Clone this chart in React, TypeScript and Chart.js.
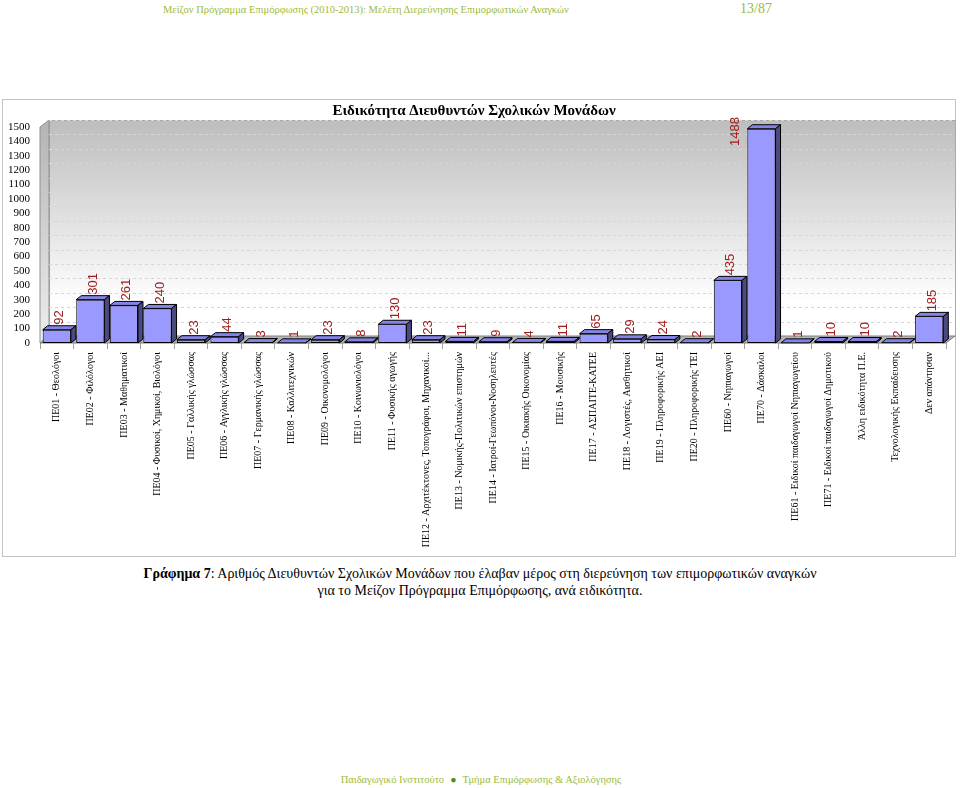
import React, { useEffect, useRef } from "react";
import { Chart, registerables } from "chart.js";

Chart.register(...registerables);

const categories: string[] = [
  "ΠΕ01 - Θεολόγοι",
  "ΠΕ02 - Φιλόλογοι",
  "ΠΕ03 - Μαθηματικοί",
  "ΠΕ04 - Φυσικοί, Χημικοί, Βιολόγοι",
  "ΠΕ05 - Γαλλικής γλώσσας",
  "ΠΕ06 - Αγγλικής γλώσσας",
  "ΠΕ07 - Γερμανικής γλώσσας",
  "ΠΕ08 - Καλλιτεχνικών",
  "ΠΕ09 - Οικονομολόγοι",
  "ΠΕ10 - Κοινωνιολόγοι",
  "ΠΕ11 - Φυσικής αγωγής",
  "ΠΕ12 - Αρχιτέκτονες, Τοπογράφοι, Μηχανικοί...",
  "ΠΕ13 - Νομικής-Πολιτικών επιστημών",
  "ΠΕ14 - Ιατροί-Γεωπόνοι-Νοσηλευτές",
  "ΠΕ15 - Οικιακής Οικονομίας",
  "ΠΕ16 - Μουσικής",
  "ΠΕ17 - ΑΣΠΑΙΤΕ-ΚΑΤΕΕ",
  "ΠΕ18 - Λογιστές, Αισθητικοί",
  "ΠΕ19 - Πληροφορικής ΑΕΙ",
  "ΠΕ20 - Πληροφορικής ΤΕΙ",
  "ΠΕ60 - Νηπιαγωγοί",
  "ΠΕ70 - Δάσκαλοι",
  "ΠΕ61 - Ειδικοί παιδαγωγοί Νηπιαγωγείου",
  "ΠΕ71 - Ειδικοί παιδαγωγοί Δημοτικού",
  "Άλλη ειδικότητα Π.Ε.",
  "Τεχνολογικής Εκπαίδευσης",
  "Δεν απάντησαν",
];

const counts: number[] = [
  92, 301, 261, 240, 23, 44, 3, 1, 23, 8, 130, 23, 11, 9, 4, 11, 65, 29, 24, 2,
  435, 1488, 1, 10, 10, 2, 185,
];

const yMin = 0;
const yMax = 1500;
const yStep = 100;

const chartTitle = "Ειδικότητα Διευθυντών Σχολικών Μονάδων";
const headerText =
  "Μείζον Πρόγραμμα Επιμόρφωσης (2010-2013): Μελέτη Διερεύνησης Επιμορφωτικών Αναγκών";
const pageNumber = "13/87";
const captionBold = "Γράφημα 7";
const captionLine1 =
  ": Αριθμός Διευθυντών Σχολικών Μονάδων που έλαβαν μέρος στη διερεύνηση των επιμορφωτικών αναγκών";
const captionLine2 = "για το Μείζον Πρόγραμμα Επιμόρφωσης, ανά ειδικότητα.";
const footerLeft = "Παιδαγωγικό Ινστιτούτο";
const footerRight = "Τμήμα Επιμόρφωσης & Αξιολόγησης";

const SERIF = "'Liberation Serif', 'Times New Roman', serif";

// 3D geometry
const WALL_DX = 9;
const WALL_DY = -7;
const BAR_DX = 5;
const BAR_DY = -4;

const wallsPlugin = {
  id: "walls3d",
  beforeDatasetsDraw(chart: any) {
    const { ctx, chartArea } = chart;
    const { left, right, top, bottom } = chartArea;
    const yScale = chart.scales.y;
    ctx.save();
    const g = ctx.createLinearGradient(0, top + WALL_DY, 0, bottom + WALL_DY);
    g.addColorStop(0, "#bdbdbd");
    g.addColorStop(0.85, "#ffffff");
    g.addColorStop(1, "#ffffff");
    ctx.fillStyle = g;
    ctx.fillRect(left + WALL_DX, top + WALL_DY, right - left, bottom - top);
    ctx.strokeStyle = "#a8a8a8";
    ctx.lineWidth = 1;
    ctx.strokeRect(left + WALL_DX + 0.5, top + WALL_DY + 0.5, right - left, bottom - top);
    const g2 = ctx.createLinearGradient(0, top, 0, bottom);
    g2.addColorStop(0, "#b5b5b5");
    g2.addColorStop(1, "#eeeeee");
    ctx.fillStyle = g2;
    ctx.beginPath();
    ctx.moveTo(left, top);
    ctx.lineTo(left + WALL_DX, top + WALL_DY);
    ctx.lineTo(left + WALL_DX, bottom + WALL_DY);
    ctx.lineTo(left, bottom);
    ctx.closePath();
    ctx.fill();
    ctx.strokeStyle = "#909090";
    ctx.stroke();
    ctx.setLineDash([3, 3]);
    ctx.strokeStyle = "#d6d6d6";
    for (let v = yMin + yStep; v <= yMax; v += yStep) {
      const y = Math.round(yScale.getPixelForValue(v) + WALL_DY) + 0.5;
      ctx.beginPath();
      ctx.moveTo(left + WALL_DX, y);
      ctx.lineTo(right + WALL_DX, y);
      ctx.stroke();
    }
    ctx.setLineDash([]);
    ctx.fillStyle = "#b4b4b4";
    ctx.beginPath();
    ctx.moveTo(left, bottom);
    ctx.lineTo(right, bottom);
    ctx.lineTo(right + WALL_DX, bottom + WALL_DY);
    ctx.lineTo(left + WALL_DX, bottom + WALL_DY);
    ctx.closePath();
    ctx.fill();
    ctx.strokeStyle = "#808080";
    ctx.stroke();
    ctx.restore();
  },
  afterDatasetsDraw(chart: any) {
    const { ctx, chartArea } = chart;
    const meta = chart.getDatasetMeta(0);
    ctx.save();
    ctx.lineWidth = 1;
    ctx.strokeStyle = "#000000";
    meta.data.forEach((bar: any) => {
      const p = bar.getProps(["x", "y", "base", "width"], true);
      const l = p.x - p.width / 2;
      const r = p.x + p.width / 2;
      ctx.fillStyle = "#8484e6";
      ctx.beginPath();
      ctx.moveTo(l, p.y);
      ctx.lineTo(l + BAR_DX, p.y + BAR_DY);
      ctx.lineTo(r + BAR_DX, p.y + BAR_DY);
      ctx.lineTo(r, p.y);
      ctx.closePath();
      ctx.fill();
      ctx.stroke();
      ctx.fillStyle = "#4a4a80";
      ctx.beginPath();
      ctx.moveTo(r, p.y);
      ctx.lineTo(r + BAR_DX, p.y + BAR_DY);
      ctx.lineTo(r + BAR_DX, p.base + BAR_DY);
      ctx.lineTo(r, p.base);
      ctx.closePath();
      ctx.fill();
      ctx.stroke();
    });
    ctx.font = "13px 'Liberation Sans', Arial, sans-serif";
    ctx.fillStyle = "#a01c1c";
    ctx.textBaseline = "middle";
    meta.data.forEach((bar: any, i: number) => {
      const p = bar.getProps(["x", "y", "base", "width"], true);
      const text = String(counts[i]);
      const tw = ctx.measureText(text).width;
      const startY = p.y + BAR_DY - 1;
      ctx.save();
      if (startY - tw < chartArea.top - 14) {
        ctx.translate(p.x - p.width / 2 - 12, chartArea.top - 10);
        ctx.rotate(-Math.PI / 2);
        ctx.textAlign = "right";
      } else {
        ctx.translate(p.x + 3, startY);
        ctx.rotate(-Math.PI / 2);
        ctx.textAlign = "left";
      }
      ctx.fillText(text, 0, 0);
      ctx.restore();
    });
    ctx.restore();
  },
};

function BarChart() {
  const ref = useRef<HTMLCanvasElement | null>(null);
  useEffect(() => {
    if (!ref.current) return;
    const chart = new Chart(ref.current, {
      type: "bar",
      data: {
        labels: categories,
        datasets: [
          {
            data: counts,
            backgroundColor: "#9999ff",
            borderColor: "#000000",
            borderWidth: 1,
            borderSkipped: false,
            barPercentage: 0.84,
            categoryPercentage: 1,
          },
        ],
      },
      options: {
        responsive: false,
        animation: false,
        layout: { padding: { left: 0, right: 10, top: 0, bottom: 0 } },
        plugins: {
          legend: { display: false },
          tooltip: { enabled: false },
          title: {
            display: true,
            text: chartTitle,
            color: "#000000",
            font: { family: SERIF, size: 15, weight: "bold" },
            padding: { top: 3, bottom: 7 },
          },
        },
        scales: {
          x: {
            grid: {
              display: true,
              drawOnChartArea: false,
              drawTicks: true,
              tickLength: 6,
              offset: true,
              color: "#a0a0a0",
            },
            border: { display: false },
            ticks: {
              autoSkip: false,
              maxRotation: 90,
              minRotation: 90,
              padding: 3,
              color: "#000000",
              font: { family: SERIF, size: 10 },
            },
            afterFit: (s: any) => {
              s.height = 214;
            },
          },
          y: {
            min: yMin,
            max: yMax,
            grid: { display: false, drawTicks: false },
            border: { display: false },
            ticks: {
              stepSize: yStep,
              autoSkip: false,
              padding: 10,
              color: "#000000",
              font: { family: SERIF, size: 11 },
              callback: (v: any) => String(v),
            },
            afterFit: (s: any) => {
              s.width = 38;
            },
          },
        },
      },
      plugins: [wallsPlugin],
    } as any);
    return () => chart.destroy();
  }, []);
  return <canvas ref={ref} width={954} height={458} style={{ display: "block" }} />;
}

export default function App() {
  const green = "#9bbb3a";
  return (
    <div
      style={{
        position: "absolute",
        left: 0,
        top: 0,
        width: 960,
        height: 788,
        background: "#ffffff",
        fontFamily: SERIF,
        overflow: "hidden",
      }}
    >
      <div style={{ position: "absolute", left: 163, top: 4, fontSize: 10.5, color: green, whiteSpace: "nowrap" }}>
        {headerText}
      </div>
      <div style={{ position: "absolute", left: 740, top: 1, fontSize: 14, color: green }}>{pageNumber}</div>
      <div
        style={{
          position: "absolute",
          left: 2,
          top: 99,
          width: 954,
          height: 458,
          boxSizing: "border-box",
          border: "1px solid #c4c4c4",
        }}
      />
      <div style={{ position: "absolute", left: 2, top: 99 }}>
        <BarChart />
      </div>
      <div
        style={{
          position: "absolute",
          left: 0,
          top: 565,
          width: 960,
          textAlign: "center",
          fontSize: 14,
          lineHeight: "17px",
          color: "#000000",
        }}
      >
        <b>{captionBold}</b>
        {captionLine1}
        <br />
        {captionLine2}
      </div>
      <div
        style={{
          position: "absolute",
          left: 0,
          top: 774,
          width: 962,
          textAlign: "center",
          fontSize: 10.5,
          color: green,
          whiteSpace: "nowrap",
        }}
      >
        {footerLeft}
        <span style={{ color: "#5a8a1a", margin: "0 6px" }}>●</span>
        {footerRight}
      </div>
    </div>
  );
}
